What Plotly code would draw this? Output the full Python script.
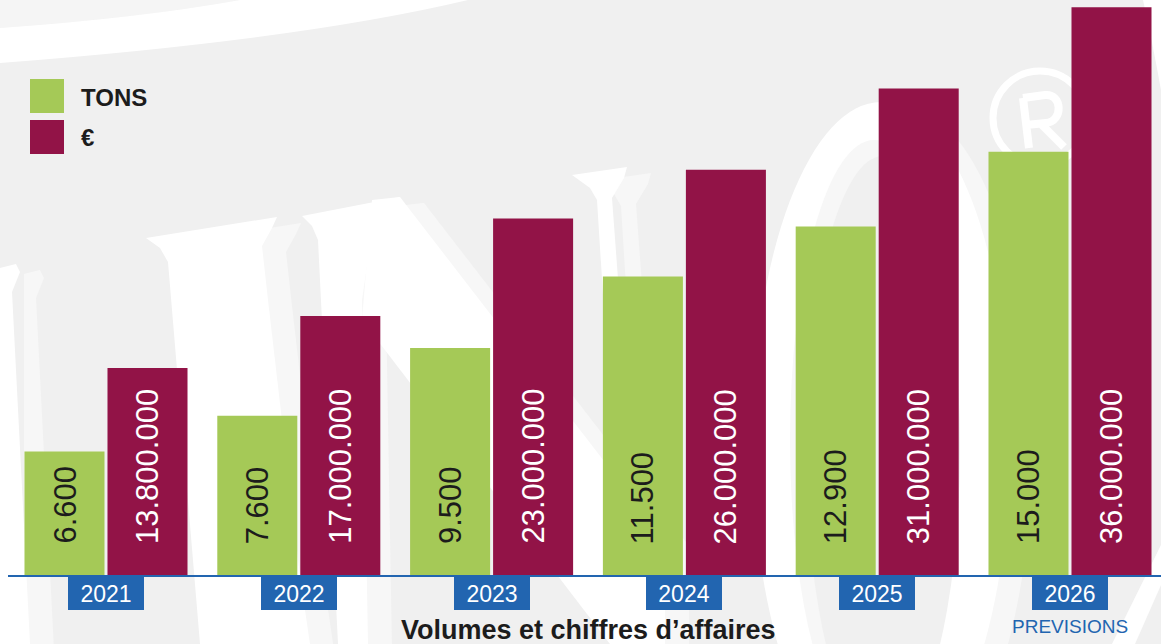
import plotly.graph_objects as go

# ---------------- data ----------------
years = [2021, 2022, 2023, 2024, 2025, 2026]
year_labels = ["2021", "2022", "2023", "2024", "2025", "2026"]
tons = [6600, 7600, 9500, 11500, 12900, 15000]
euros = [13800000, 17000000, 23000000, 26000000, 31000000, 36000000]
series_names = ["TONS", "€"]
title_text = "Volumes et chiffres d’affaires"
forecast_note = "PREVISIONS"

# ---------------- style ----------------
GREEN = "#a5c957"
MAROON = "#921347"
BLUE = "#2265b0"
BG = "#f0f0f0"
DARK = "#1c1c1c"
W, H = 1161, 644
PLOT_H = 576  # plot area height (t=0, b=68)
BARGAP = 0.139
BARGROUPGAP = 0.036
FONT = "Liberation Sans, Arial, sans-serif"


def px(x):
    return x / W


def py(y):
    return (PLOT_H - y) / PLOT_H


def poly(pts):
    return "M " + " L ".join(f"{px(x):.5f},{py(y):.5f}" for x, y in pts) + " Z"


def fmt(v):
    return f"{v:,}".replace(",", ".")


fig = go.Figure()
fig.add_trace(go.Bar(x=years, y=tons, name=series_names[0], yaxis="y",
                     offsetgroup="1", marker=dict(color=GREEN, line=dict(width=0)),
                     hoverinfo="skip"))
fig.add_trace(go.Bar(x=years, y=euros, name=series_names[1], yaxis="y2",
                     offsetgroup="2", marker=dict(color=MAROON, line=dict(width=0)),
                     hoverinfo="skip"))

shapes = []

# ---------- decorative watermark (below the bars) ----------
def add_poly(pts, color):
    shapes.append(dict(type="path", path=poly(pts), xref="paper", yref="paper",
                       fillcolor=color, line=dict(width=0), layer="below"))


def add_ellipse(x0, y0, x1, y1, color):
    shapes.append(dict(type="circle", xref="paper", yref="paper",
                       x0=px(x0), x1=px(x1), y0=py(y1), y1=py(y0),
                       fillcolor=color, line=dict(width=0), layer="below"))


SHADOW = "#f7f7f7"
WHITE = "#ffffff"

# top-left light corner and white swoosh band
shapes.append(dict(type="path", xref="paper", yref="paper", layer="below",
                   path=f"M {px(0)},{py(0)} L {px(240)},{py(0)} Q {px(140)},{py(18)} {px(0)},{py(28)} Z",
                   fillcolor="#f5f5f5", line=dict(width=0)))
shapes.append(dict(type="path", xref="paper", yref="paper", layer="below",
                   path=(f"M {px(240)},{py(0)} L {px(468)},{py(0)} "
                         f"Q {px(300)},{py(40)} {px(0)},{py(63)} L {px(0)},{py(28)} "
                         f"Q {px(140)},{py(18)} {px(240)},{py(0)} Z"),
                   fillcolor=WHITE, line=dict(width=0)))
# top-right swoosh
shapes.append(dict(type="path", xref="paper", yref="paper", layer="below",
                   path=f"M {px(1143)},{py(0)} Q {px(1152)},{py(40)} {px(1161)},{py(90)} L {px(1161)},{py(0)} Z",
                   fillcolor=WHITE, line=dict(width=0)))
add_poly([(1161, 545), (1161, 585), (1135, 644), (1112, 644)], WHITE)

letters = [
    [(0, 268), (16, 264), (20, 272), (12, 292), (30, 644), (0, 644)],
    [(146, 238), (277, 217), (272, 228), (262, 246), (268, 300), (300, 576),
     (310, 644), (200, 644), (168, 262), (160, 248)],
    [(302, 216), (400, 197), (392, 208), (372, 232), (362, 300), (368, 644),
     (338, 644), (318, 240), (312, 226)],
    [(372, 200), (400, 197), (665, 540), (665, 644), (610, 644), (362, 320)],
    [(572, 175), (627, 167), (624, 178), (612, 198), (640, 576), (645, 644),
     (625, 644), (597, 200), (590, 188)],
]
for pts in letters:
    add_poly([(x + 24, y + 6) for x, y in pts], SHADOW)
# O shadow + body
add_ellipse(774, 108, 1032, 786, SHADOW)
for pts in letters:
    add_poly(pts, WHITE)
add_ellipse(752, 102, 1010, 780, WHITE)
add_ellipse(790, 140, 958, 740, SHADOW)
add_ellipse(806, 156, 960, 740, BG)
# registered mark
shapes.append(dict(type="circle", xref="paper", yref="paper", layer="below",
                   x0=px(993), x1=px(1087), y0=py(165), y1=py(71),
                   line=dict(color=WHITE, width=7), fillcolor="rgba(0,0,0,0)"))
shapes.append(dict(type="path", xref="paper", yref="paper", layer="below",
                   path=(f"M {px(1023)},{py(98)} L {px(1029)},{py(148)} "
                         f"M {px(1023)},{py(98)} L {px(1045)},{py(95)} "
                         f"C {px(1062)},{py(93)} {px(1064)},{py(121)} {px(1046)},{py(123)} "
                         f"L {px(1026)},{py(125)} M {px(1041)},{py(124)} L {px(1064)},{py(147)}"),
                   line=dict(color=WHITE, width=8), fillcolor="rgba(0,0,0,0)"))

# ---------- baseline ----------
shapes.append(dict(type="line", xref="paper", yref="paper", layer="above",
                   x0=px(8), x1=1, y0=0, y1=0, line=dict(color=BLUE, width=2)))

# ---------- legend swatches ----------
for i, col in enumerate([GREEN, MAROON]):
    top = 79 + i * 41
    shapes.append(dict(type="rect", xref="paper", yref="paper", layer="above",
                       x0=px(30), x1=px(64), y0=py(top + 34), y1=py(top),
                       fillcolor=col, line=dict(width=0)))

annotations = []
for i, name in enumerate(series_names):
    annotations.append(dict(text=f"<b>{name}</b>", x=px(79), y=py(97 + i * 40),
                            xref="paper", yref="paper", xanchor="left", yanchor="middle",
                            showarrow=False, font=dict(family=FONT, size=24, color=DARK)))

# ---------- value labels inside bars ----------
slot = (1 - BARGAP) / 2
off = slot / 2
for yr, t, e in zip(years, tons, euros):
    annotations.append(dict(text=fmt(t), x=yr - off, xref="x", y=0, yref="paper",
                            yanchor="bottom", xanchor="center", yshift=31, textangle=-90,
                            showarrow=False, borderpad=0,
                            font=dict(family=FONT, size=31, color=DARK)))
    annotations.append(dict(text=fmt(e), x=yr + off, xref="x", y=0, yref="paper",
                            yanchor="bottom", xanchor="center", yshift=31, textangle=-90,
                            showarrow=False, borderpad=0,
                            font=dict(family=FONT, size=31, color="white")))

# ---------- year boxes ----------
for yr, lab in zip(years, year_labels):
    annotations.append(dict(text=lab, x=yr, xref="x", y=0, yref="paper",
                            yanchor="top", xanchor="center", yshift=-1,
                            showarrow=False, bgcolor=BLUE, width=76, height=33,
                            borderpad=0, borderwidth=0, align="center", valign="middle",
                            font=dict(family=FONT, size=23, color="white")))

annotations.append(dict(text=forecast_note, x=years[-1], xref="x", y=py(626), yref="paper",
                        yanchor="middle", xanchor="center", showarrow=False,
                        font=dict(family=FONT, size=19, color=BLUE)))
annotations.append(dict(text=f"<b>{title_text}</b>", x=px(588), y=py(630),
                        xref="paper", yref="paper", xanchor="center", yanchor="middle",
                        showarrow=False, font=dict(family=FONT, size=27, color=DARK)))

x0 = years[0] - 106 / 192.8
x1 = years[-1] + (W - 1070) / 192.8

fig.update_layout(
    width=W, height=H,
    margin=dict(l=0, r=0, t=0, b=H - PLOT_H, pad=0),
    paper_bgcolor=BG, plot_bgcolor="rgba(0,0,0,0)",
    barmode="group", bargap=BARGAP, bargroupgap=BARGROUPGAP,
    showlegend=False,
    xaxis=dict(range=[x0, x1], visible=False, fixedrange=True),
    yaxis=dict(range=[3110, 19250], visible=False, fixedrange=True),
    yaxis2=dict(range=[1.0e6, 36.45e6], visible=False, overlaying="y", fixedrange=True),
    shapes=shapes, annotations=annotations,
    font=dict(family=FONT),
)

fig.write_html("out.html", config={"displayModeBar": False},
               post_script="document.body.style.margin='0';document.body.style.overflow='hidden';")
